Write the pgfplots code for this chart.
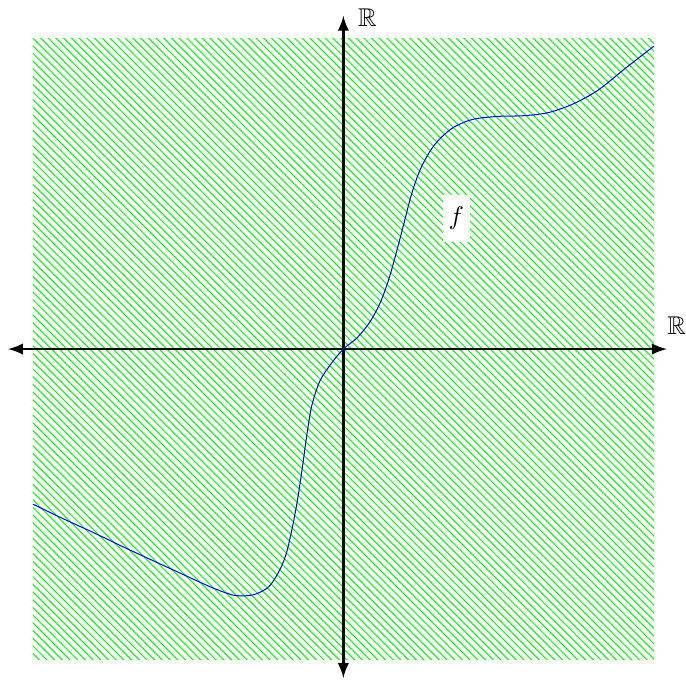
\documentclass[border=0pt]{standalone}
\usepackage{pgfplots}
\pgfplotsset{compat=1.18}
\usepackage{amssymb}
\usetikzlibrary{patterns}
\begin{document}
\begin{tikzpicture}
\begin{axis}[
  scale only axis, width=267pt, height=266pt,
  xmin=-5.53, xmax=5.50, ymin=-5.37, ymax=5.625,
  hide axis, clip=false,
]
\addplot[draw=none, forget plot] coordinates {(-5.53,-5.37) (5.50,5.625)};
\addplot[draw=none, pattern=north west lines, pattern color=green] coordinates {(-5,-5) (5,-5) (5,5) (-5,5)} -- cycle;
\addplot[line width=1pt, -latex] coordinates {(0,0) (5.21,0)};
\addplot[line width=1pt, -latex] coordinates {(0,0) (-5.4,0)};
\addplot[line width=1pt, -latex] coordinates {(0,0) (0,5.37)};
\addplot[line width=1pt, -latex] coordinates {(0,0) (0,-5.3)};
\addplot[blue, smooth] coordinates {
(-5,-2.5) (-4.5,-2.74) (-4.0,-2.97) (-3.5,-3.21) (-3.0,-3.44) (-2.5,-3.67) (-2.1,-3.85) (-1.75,-3.97) (-1.45,-3.96) (-1.2,-3.83) (-1.03,-3.57) (-0.92,-3.30) (-0.82,-2.87) (-0.74,-2.44) (-0.66,-1.91) (-0.59,-1.40) (-0.51,-0.92) (-0.38,-0.52) (-0.2,-0.24) (0,0) (0.22,0.18) (0.43,0.44) (0.6,0.76) (0.74,1.15) (0.86,1.58) (0.98,2.04) (1.1,2.50) (1.25,2.92) (1.46,3.28) (1.74,3.55) (2.08,3.70) (2.5,3.75) (2.9,3.76) (3.3,3.81) (3.7,3.95) (4.1,4.17) (4.55,4.53) (5.0,4.88)};
\node[fill=white, inner xsep=2.3pt, inner ysep=4.7pt] at (axis cs:1.82,2.11) {$f$};
\node[inner sep=0pt] at (axis cs:5.37,0.37) {$\mathbb{R}$};
\node[inner sep=0pt] at (axis cs:0.386,5.34) {$\mathbb{R}$};
\end{axis}
\end{tikzpicture}
\end{document}
